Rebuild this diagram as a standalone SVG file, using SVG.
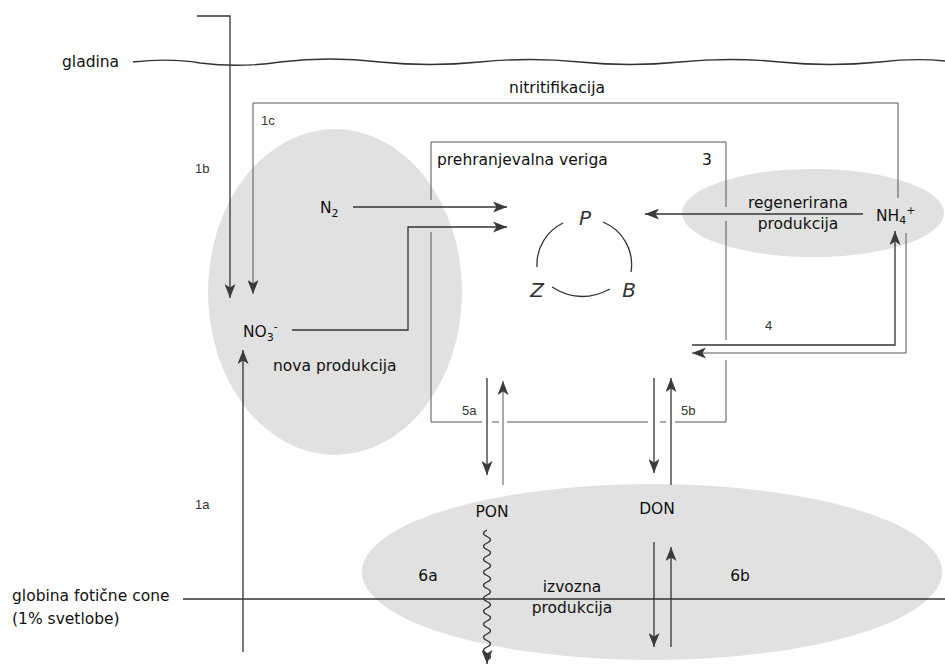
<svg xmlns="http://www.w3.org/2000/svg" width="945" height="666" viewBox="0 0 945 666">
<style>
text{font-family:"DejaVu Sans","Liberation Sans",sans-serif;fill:#111}
.t{font-size:15.5px}
.s{font-family:"Liberation Sans",Arial,sans-serif;font-size:13px;fill:#333}
.i{font-size:20px;font-style:italic;fill:#333}
.ln{fill:none;stroke:#333;stroke-width:1.3}
.lt{fill:none;stroke:#555;stroke-width:1}
.ell{fill:#e1e1e1}
</style>
<defs>
<marker id="ah" viewBox="0 0 14 11" refX="14" refY="5.5" markerWidth="14" markerHeight="11" orient="auto" markerUnits="userSpaceOnUse">
<path d="M0,0 L14,5.5 L0,11 L3.5,5.5 Z" fill="#3a3a3a"/>
</marker>
</defs>
<rect width="945" height="666" fill="#fff"/>

<g id="ellipse-nova"><ellipse class="ell" cx="335" cy="292" rx="127" ry="163"/></g>
<g id="ellipse-regen"><ellipse class="ell" cx="813" cy="213" rx="131" ry="44"/></g>
<g id="ellipse-izvoz"><ellipse class="ell" cx="652" cy="572" rx="290" ry="88"/></g>

<g id="surface">
<path class="ln" d="M133,62 Q170,58 200,63 Q240,68 280,62 Q330,56 380,62 Q430,67 480,62 Q530,57 580,62 Q630,67 680,62 Q730,57 780,62 Q830,67 880,62 Q915,58 945,61"/>
<text class="t" x="62" y="67">gladina</text>
</g>

<g id="photic">
<line class="ln" x1="183" y1="599" x2="945" y2="599"/>
<text class="t" x="12" y="601">globina fotične cone</text>
<text class="t" x="12" y="624">(1% svetlobe)</text>
</g>

<g id="foodweb-box">
<path class="lt" d="M431,200 V142 H726 V207 M726,221 V340 M726,360 V422 H675 M666,422 H660 M648,422 H507 M499,422 H492 M482,422 H431 V232"/>
<text class="t" x="437" y="165">prehranjevalna veriga</text>
<text class="t" x="702" y="165">3</text>
</g>

<g id="cycle">
<text class="i" x="585" y="225" text-anchor="middle">P</text>
<text class="i" x="537" y="297" text-anchor="middle">Z</text>
<text class="i" x="629" y="297" text-anchor="middle">B</text>
<path class="ln" d="M563,223 A46,46 0 0 0 537,267"/>
<path class="ln" d="M603,222 A46,46 0 0 1 631,272"/>
<path class="ln" d="M552,287 Q580,305 610,289"/>
</g>

<g id="connectors">
<path class="ln" d="M197,16 H230 V298" marker-end="url(#ah)"/>
<path class="lt" d="M898,198 V103 H253 V294" marker-end="url(#ah)"/>
<path class="ln" d="M243,652 V350" marker-end="url(#ah)"/>
<path class="ln" d="M353,207 H507" marker-end="url(#ah)"/>
<path class="ln" d="M292,330 H408 V227 H507" marker-end="url(#ah)"/>
<path class="ln" d="M863,214 H645" marker-end="url(#ah)"/>
<path class="ln" d="M692,345 H895 V231" marker-end="url(#ah)"/>
<path class="lt" d="M906,233 V353 H692" marker-end="url(#ah)"/>
<path class="ln" d="M487,378 V475" marker-end="url(#ah)"/>
<path class="lt" d="M503,485 V381" marker-end="url(#ah)"/>
<path class="ln" d="M654,378 V473" marker-end="url(#ah)"/>
<path class="ln" d="M671,485 V378" marker-end="url(#ah)"/>
<path class="ln" d="M654,542 V647" marker-end="url(#ah)"/>
<path class="ln" d="M671,647 V547" marker-end="url(#ah)"/>
<path class="ln" d="M487,530 q-7,3.25 0,6.5 q7,3.25 0,6.5 q-7,3.25 0,6.5 q7,3.25 0,6.5 q-7,3.25 0,6.5 q7,3.25 0,6.5 q-7,3.25 0,6.5 q7,3.25 0,6.5 q-7,3.25 0,6.5 q7,3.25 0,6.5 q-7,3.25 0,6.5 q7,3.25 0,6.5 q-7,3.25 0,6.5 q7,3.25 0,6.5 q-7,3.25 0,6.5 q7,3.25 0,6.5 q-7,3.25 0,6.5 q7,3.25 0,6.5 q-7,3.25 0,6.5 q7,3.25 0,6.5 V664" marker-end="url(#ah)"/>
</g>

<g id="labels">
<text class="t" x="557" y="93" text-anchor="middle">nitritifikacija</text>
<text class="s" x="261" y="125">1c</text>
<text class="s" x="195" y="173">1b</text>
<text class="s" x="195" y="509">1a</text>
<text class="s" x="765" y="330">4</text>
<text class="s" x="462" y="415">5a</text>
<text class="s" x="681" y="415">5b</text>
</g>

<g id="node-N2"><text class="t" x="320" y="213">N<tspan font-size="11" dy="4">2</tspan></text></g>
<g id="node-NO3"><text class="t" x="243" y="337">NO<tspan font-size="11" dy="4">3</tspan><tspan font-size="11" dy="-11">-</tspan></text></g>
<g id="node-nova"><text class="t" x="273" y="371">nova produkcija</text></g>
<g id="node-regen">
<text class="t" x="798" y="208" text-anchor="middle">regenerirana</text>
<text class="t" x="798" y="229" text-anchor="middle">produkcija</text>
</g>
<g id="node-NH4"><text class="t" x="876" y="221">NH<tspan font-size="11" dy="3">4</tspan><tspan font-size="11" dy="-10">+</tspan></text></g>
<g id="node-PON"><text class="t" x="492" y="517" text-anchor="middle">PON</text></g>
<g id="node-DON"><text class="t" x="657" y="514" text-anchor="middle">DON</text></g>
<g id="node-izvoz">
<text class="t" x="428" y="581" text-anchor="middle">6a</text>
<text class="t" x="740" y="581" text-anchor="middle">6b</text>
<text class="t" x="572" y="592" text-anchor="middle">izvozna</text>
<text class="t" x="572" y="613" text-anchor="middle">produkcija</text>
</g>
</svg>
